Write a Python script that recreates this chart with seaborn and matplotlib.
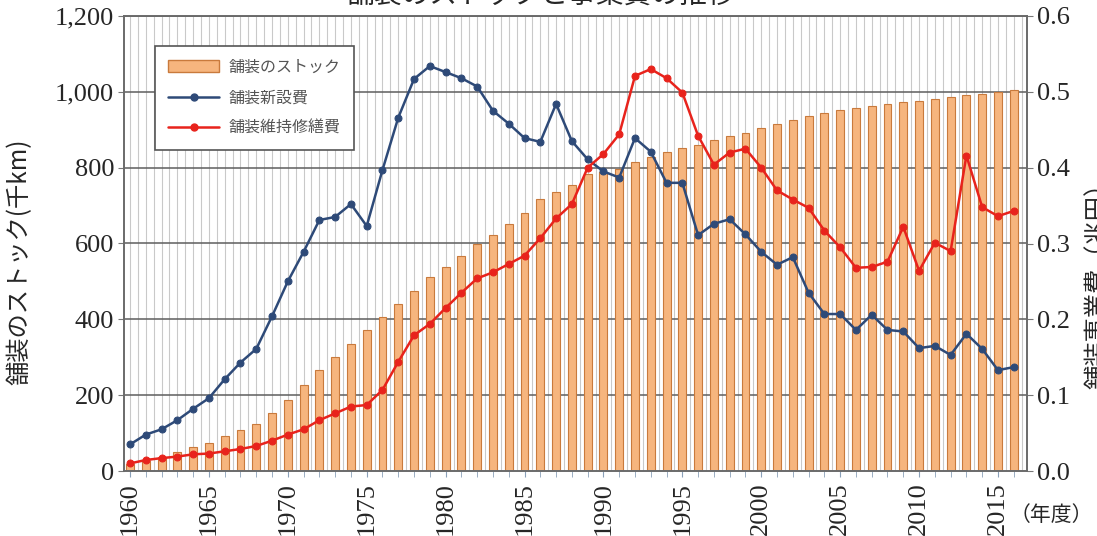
import numpy as np
import pandas as pd
import matplotlib
matplotlib.use("Agg")
import matplotlib.pyplot as plt
import matplotlib.ticker as mticker
from matplotlib.patches import Patch
from matplotlib.lines import Line2D
import seaborn as sns

# ---------------- data ----------------
years = list(range(1960, 2017))
stock = [18, 27, 38, 51, 64, 75, 91, 108, 125, 152,
         187, 226, 266, 301, 336, 371, 406, 440, 474, 512,
         538, 568, 599, 623, 652, 680, 718, 735, 753, 783,
         788, 797, 814, 827, 841, 851, 860, 874, 884, 892,
         904, 915, 925, 935, 944, 951, 957, 962, 968, 972,
         976, 981, 987, 991, 995, 1000, 1004]
new_cost = [0.035, 0.048, 0.055, 0.067, 0.082, 0.096, 0.121, 0.143, 0.161, 0.204,
            0.250, 0.289, 0.331, 0.335, 0.352, 0.323, 0.397, 0.466, 0.517, 0.534,
            0.526, 0.518, 0.507, 0.475, 0.458, 0.439, 0.434, 0.484, 0.435, 0.411,
            0.395, 0.387, 0.439, 0.421, 0.380, 0.380, 0.311, 0.326, 0.332, 0.312,
            0.289, 0.272, 0.282, 0.235, 0.207, 0.207, 0.186, 0.206, 0.186, 0.184,
            0.162, 0.165, 0.153, 0.181, 0.161, 0.133, 0.137]
maint_cost = [0.010, 0.0145, 0.017, 0.019, 0.022, 0.023, 0.026, 0.029, 0.033, 0.040,
              0.048, 0.055, 0.067, 0.076, 0.085, 0.087, 0.107, 0.144, 0.179, 0.194,
              0.215, 0.235, 0.254, 0.262, 0.273, 0.284, 0.307, 0.333, 0.352, 0.400,
              0.418, 0.444, 0.521, 0.530, 0.518, 0.499, 0.442, 0.404, 0.420, 0.425,
              0.400, 0.370, 0.358, 0.347, 0.317, 0.295, 0.268, 0.269, 0.276, 0.322,
              0.264, 0.301, 0.290, 0.416, 0.348, 0.336, 0.343]

title = "舗装のストックと事業費の推移"
left_label = "舗装のストック(千km)"
right_label = "舗装事業費（兆円）"
x_unit = "（年度）"
legend_labels = ["舗装のストック", "舗装新設費", "舗装維持修繕費"]
major_years = list(range(1960, 2016, 5))

df = pd.DataFrame({"year": years, "stock": stock,
                   "new": new_cost, "maint": maint_cost})

# ---------------- style ----------------
sns.set_style("ticks")
plt.rcParams["font.family"] = ["Liberation Serif", "Noto Sans CJK JP"]
JP = ["Noto Sans CJK JP", "DejaVu Sans"]

bar_face = "#F6B57E"
bar_edge = "#C97A3C"
blue = "#2E4A78"
red = "#E8231C"

fig = plt.figure(figsize=(10.97, 5.36), dpi=100)
ax = fig.add_axes([124 / 1097, 1 - 471 / 536, 903 / 1097, 455 / 536])

# vertical light grid (every half-year)
for v in np.arange(1959.5, 2017.0, 0.5):
    ax.axvline(v, color="#C9C9C9", lw=0.8, zorder=0)

sns.barplot(data=df, x="year", y="stock", native_scale=True, ax=ax,
            color=bar_face, saturation=1, width=0.5,
            edgecolor=bar_edge, linewidth=0.8, zorder=2)

ax.set_xlim(1959.62, 2016.84)
ax.set_ylim(0, 1200)
ax.set_yticks(range(0, 1201, 200))
ax.yaxis.set_major_formatter(mticker.FuncFormatter(lambda v, p: f"{int(v):,}"))
for yv in range(200, 1201, 200):
    ax.axhline(yv, color="#5E5E5E", lw=1.1, zorder=1)

ax.set_xticks(major_years)
ax.set_xticklabels([str(y) for y in major_years], rotation=90)
ax.set_xticks(years, minor=True)
ax.tick_params(axis="x", which="both", direction="out", length=4,
               color="#8AA0B8", labelsize=19, pad=4)
ax.tick_params(axis="y", direction="out", length=4, color="#777777",
               labelsize=19, pad=3)
ax.set_xlabel("")
ax.set_ylabel(left_label, fontsize=17.5, family=JP)
ax.yaxis.set_label_coords(-0.101, 0.46)
for s in ax.spines.values():
    s.set_color("#6A6A6A")
    s.set_linewidth(1.2)

ax2 = ax.twinx()
sns.lineplot(data=df, x="year", y="new", ax=ax2, color=blue, lw=1.8,
             marker="o", markersize=5, markeredgecolor=blue, legend=False)
sns.lineplot(data=df, x="year", y="maint", ax=ax2, color=red, lw=1.8,
             marker="o", markersize=5, markeredgecolor=red, legend=False)
ax2.set_ylim(0, 0.6)
ax2.set_yticks(np.arange(0, 0.61, 0.1))
ax2.yaxis.set_major_formatter(mticker.FormatStrFormatter("%.1f"))
ax2.tick_params(axis="y", direction="out", length=4, color="#777777",
                labelsize=19, pad=3)
ax2.set_xlabel("")
ax2.set_ylabel(right_label, fontsize=17.5, family=JP, rotation=90)
ax2.yaxis.set_label_coords(1.064, 0.42)
for s in ax2.spines.values():
    s.set_color("#6A6A6A")
    s.set_linewidth(1.2)
ax2.set_xlim(1959.62, 2016.84)

handles = [Patch(facecolor=bar_face, edgecolor=bar_edge, lw=1.0),
           Line2D([], [], color=blue, lw=1.8, marker="o", markersize=5),
           Line2D([], [], color=red, lw=1.8, marker="o", markersize=5)]
leg = ax2.legend(handles, legend_labels, loc="upper left",
                 bbox_to_anchor=(0.026, 0.952), frameon=True, fancybox=False,
                 framealpha=1, edgecolor="#555555", prop={"family": JP, "size": 11.5},
                 labelcolor="#555555", handlelength=3.2, labelspacing=0.85,
                 borderpad=0.8, handletextpad=0.6)
leg.get_frame().set_linewidth(1.2)

fig.text(0.493, 1.009, title, ha="center", va="center", fontsize=20, family=JP)
fig.text(0.996, 0.039, x_unit, ha="right", va="center", fontsize=15, family=JP)

fig.savefig("out.png", dpi=100)
